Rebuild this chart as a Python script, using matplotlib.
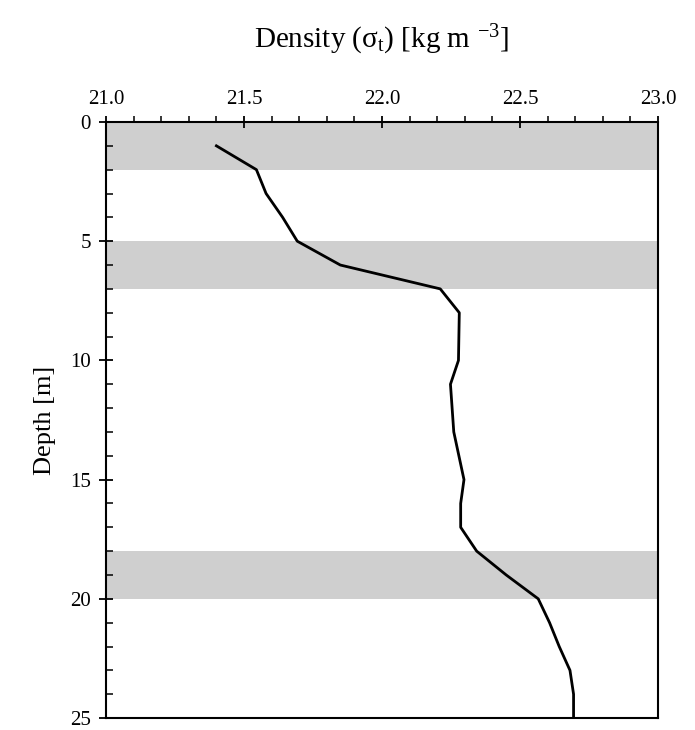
import matplotlib
matplotlib.use("Agg")
import matplotlib.pyplot as plt
from matplotlib.ticker import MultipleLocator

plt.rcParams['font.family'] = ['Liberation Serif', 'DejaVu Serif']

depth = [1, 2, 3, 4, 5, 6, 7, 8, 10, 11, 13, 15, 16, 17, 18, 19, 20, 21, 22, 23, 24, 25]
density = [21.40, 21.545, 21.58, 21.64, 21.693, 21.849, 22.211, 22.28, 22.277, 22.248,
           22.26, 22.297, 22.285, 22.285, 22.343, 22.45, 22.566, 22.607, 22.642, 22.681,
           22.694, 22.694]
bands = [(0, 2), (5, 7), (18, 20)]
xticks = [21.0, 21.5, 22.0, 22.5, 23.0]
yticks = [0, 5, 10, 15, 20, 25]

fig = plt.figure(figsize=(6.95, 7.3), dpi=100)
ax = fig.add_axes([0.1525, 0.0164, 0.7943, 0.8165])

for top, bot in bands:
    ax.axhspan(top, bot, color='#cfcfcf', lw=0, zorder=0)

ax.plot(density, depth, color='black', lw=2.0, zorder=3)

ax.set_xlim(21.0, 23.0)
ax.set_ylim(25, 0)
ax.xaxis.tick_top()
ax.xaxis.set_label_position('top')
ax.set_xticks(xticks)
ax.set_xticklabels([f"{v:.1f}" for v in xticks])
ax.xaxis.set_minor_locator(MultipleLocator(0.1))
ax.set_yticks(yticks)
ax.yaxis.set_minor_locator(MultipleLocator(1))

ax.tick_params(axis='x', which='major', direction='inout', length=9, width=1.3,
               labelsize=15, pad=5, top=True, bottom=False)
ax.tick_params(axis='x', which='minor', direction='out', length=4, width=1.1,
               top=True, bottom=False)
ax.tick_params(axis='y', which='major', direction='inout', length=10, width=1.3,
               labelsize=15, pad=6, left=True, right=False)
ax.tick_params(axis='y', which='minor', direction='in', length=5, width=1.1,
               left=True, right=False)

for s in ax.spines.values():
    s.set_linewidth(1.5)

ax.set_xlabel(r'Density ($\mathregular{\sigma_t}$) [kg m $\mathregular{^{-3}}$]',
              fontsize=21, labelpad=30)
ax.set_ylabel('Depth [m]', fontsize=19, labelpad=10)

fig.savefig('out.png', dpi=100)
